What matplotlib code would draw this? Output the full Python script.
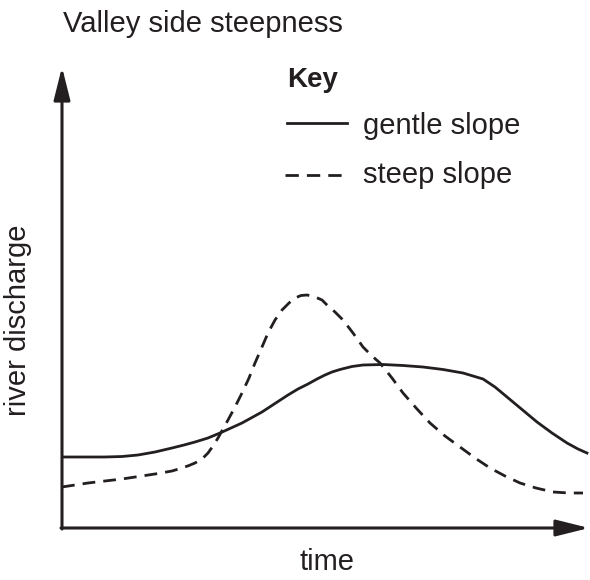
import matplotlib.pyplot as plt

plt.rcParams['font.family'] = ['Liberation Sans', 'DejaVu Sans']

ink = '#231f20'

# time / discharge (arbitrary units)
gentle_t = [0, 20, 43, 60, 76, 93, 110, 122, 133, 146, 158, 169, 180, 190, 200, 213, 226, 236, 246,
            255, 263, 270, 278, 290, 301, 321, 341, 361, 381, 401, 421, 433, 445, 460, 475, 490,
            505, 516, 525]
gentle_q = [71, 71, 71, 71.5, 73, 76, 80, 83, 86, 90, 95, 100, 105, 110.5, 116, 124.5, 133, 139, 144,
            149, 153, 156, 158.5, 161.5, 163, 163.5, 162.5, 161, 158.5, 155, 149, 141, 131, 118.5, 106, 95,
            85, 79, 75]

steep_t = [0, 26, 60, 93, 110, 120, 127, 133, 140, 146, 151, 156, 161, 166, 173, 180, 187, 193, 200,
           206, 213, 220, 227, 233, 239, 245, 252, 260, 265, 273, 281, 291, 301, 310, 318, 330,
           341, 355, 368, 383, 398, 413, 428, 443, 458, 474, 491, 507, 521]
steep_q = [41, 45, 49, 54, 57, 60, 62.5, 65, 69, 75, 82, 90, 99, 108, 121, 135, 150, 165, 181,
           195, 208, 218, 225, 230, 232.5, 233, 231.5, 228, 223, 216, 208, 195, 181, 172, 165, 150,
           135, 119, 105, 92, 81, 70, 60, 52, 45, 40, 36, 35, 35]

fig = plt.figure(figsize=(5.9, 5.8), dpi=100)
ax = fig.add_axes([62 / 590, 52 / 580, 528 / 590, 462 / 580])
ax.set_xlim(0, 528)
ax.set_ylim(0, 462)
ax.axis('off')

# axes with arrow heads
arrow = dict(arrowstyle='-|>,head_length=2.0,head_width=0.5', color=ink, lw=2.2, shrinkA=0, shrinkB=0)
ax.annotate('', xy=(0, 461), xytext=(0, -1), arrowprops=arrow)
ax.annotate('', xy=(527, 0), xytext=(-1, 0), arrowprops=arrow)

ax.plot(gentle_t, gentle_q, color=ink, lw=2, solid_joinstyle='round')
ax.plot(steep_t, steep_q, color=ink, lw=2, dashes=(4.6, 2.9))

# key
ax.text(225, 441, 'Key', fontsize=20, fontweight='bold', color=ink, va='baseline')
ax.plot([225, 285], [405, 405], color=ink, lw=2)
ax.text(301, 394, 'gentle slope', fontsize=21, color=ink, va='baseline')
ax.plot([223, 280], [353, 353], color=ink, lw=2, dashes=(4.8, 2.9))
ax.text(301, 345, 'steep slope', fontsize=21, color=ink, va='baseline')

fig.text(63 / 590, 1 - 32 / 580, 'Valley side steepness', fontsize=21, color=ink, va='baseline', ha='left')
fig.text(18 / 590, 1 - 320 / 580, 'river discharge', fontsize=21, color=ink, va='center', ha='center', rotation=90)
fig.text(327 / 590, 1 - 570 / 580, 'time', fontsize=21, color=ink, va='baseline', ha='center')

fig.savefig('out.png', dpi=100)
